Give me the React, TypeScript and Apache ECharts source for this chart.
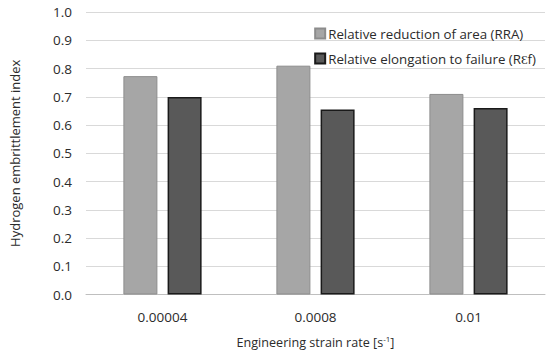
import React, { useEffect, useRef } from "react";
import * as echarts from "echarts";

const categories = ["0.00004", "0.0008", "0.01"];
const rraValues = [0.773, 0.81, 0.71];
const refValues = [0.699, 0.655, 0.66];
const seriesNames = ["Relative reduction of area (RRA)", "Relative elongation to failure (R\u0190f)"];

export default function App() {
  const ref = useRef<HTMLDivElement>(null);
  useEffect(() => {
    const chart = echarts.init(ref.current!, null, { renderer: "svg" });
    const font = "Open Sans";
    const txt = "#2b2b2b";
    chart.setOption({
      animation: false,
      textStyle: { fontFamily: font },
      grid: { left: 82, right: 5, top: 12, bottom: 54 },
      legend: {
        orient: "vertical",
        right: 9,
        top: 22,
        itemWidth: 10,
        itemHeight: 10,
        itemGap: 12,
        icon: "rect",
        textStyle: { fontFamily: font, fontSize: 13.3, color: txt, padding: [0, 0, 0, -2] },
        data: seriesNames,
      },
      xAxis: {
        type: "category",
        data: categories,
        axisTick: { show: false },
        axisLine: { lineStyle: { color: "#bfbfbf", width: 1 } },
        axisLabel: { fontFamily: font, fontSize: 13.5, color: txt, margin: 15 },
        name: "Engineering strain rate [s{sup|-1}]",
        nameLocation: "middle",
        nameGap: 40,
        nameTextStyle: {
          fontFamily: font,
          fontSize: 12.6,
          color: txt,
          rich: { sup: { fontSize: 8, verticalAlign: "top", padding: [0, 0, 8, 0], color: txt, fontFamily: font } },
        },
      },
      yAxis: {
        type: "value",
        min: 0,
        max: 1,
        interval: 0.1,
        axisLabel: { fontFamily: font, fontSize: 13.5, color: txt, formatter: (v: number) => v.toFixed(1), margin: 14 },
        splitLine: { lineStyle: { color: "#d9d9d9", width: 1 } },
        name: "Hydrogen embrittlement index",
        nameLocation: "middle",
        nameGap: 65,
        nameTextStyle: { fontFamily: font, fontSize: 13, color: txt },
      },
      series: [
        {
          name: seriesNames[0],
          type: "bar",
          data: rraValues,
          barWidth: 34,
          barGap: "30%",
          itemStyle: { color: "#a6a6a6", borderColor: "#8c8c8c", borderWidth: 1 },
        },
        {
          name: seriesNames[1],
          type: "bar",
          data: refValues,
          barWidth: 34,
          itemStyle: { color: "#595959", borderColor: "#1a1a1a", borderWidth: 1.5 },
        },
      ],
    });
    return () => chart.dispose();
  }, []);
  return <div ref={ref} style={{ width: 550, height: 354, position: "fixed", left: 0, top: 0, background: "#fff" }} />;
}
